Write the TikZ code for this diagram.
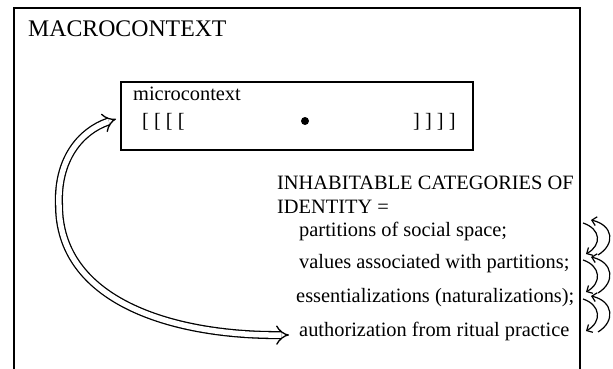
\documentclass[tikz,border=0pt]{standalone}
\usepackage{fontspec}
\setmainfont{Liberation Serif}
\usetikzlibrary{arrows.meta}
\begin{document}
\begin{tikzpicture}[x=1pt,y=-1pt,
  txt/.style={anchor=base west, inner sep=0pt, font=\fontsize{20.4}{24}\selectfont},
  bigtxt/.style={anchor=base west, inner sep=0pt, font=\fontsize{23.8}{28}\selectfont},
  frame/.style={line width=1.7pt},
  dbl/.style={double, double distance=5.5pt, line width=1.3pt, {Implies}-{Implies}},
  recip/.style={line width=1.2pt, -{Straight Barb[length=4.5pt,width=9pt]}}]
\useasboundingbox (0,0) rectangle (613,369);
% outer macro frame (open at bottom)
\coordinate (fBL) at (14,369);
\coordinate (fTL) at (14,8);
\coordinate (fTR) at (580,8);
\coordinate (fBR) at (580,369);
\draw[frame] (fBL) -- (fTL) -- (fTR) -- (fBR);
\node[bigtxt] (macro) at (28,37) {MACROCONTEXT};
% micro box
\node[draw, frame, minimum width=352pt, minimum height=68pt, inner sep=0pt] (micro) at (297,116) {};
\node[txt] (microlbl) at (133,100) {microcontext};
\node[txt] (lbr) at (142,127) {[ [ [ [};
\node[txt] (rbr) at (413,127) {] ] ] ]};
\node[circle, fill, inner sep=0pt, minimum size=8pt] (dot) at (305,121) {};
% identity text
\node[txt] (inh) at (277,189) {INHABITABLE CATEGORIES OF};
\node[txt] (ident) at (277,213) {IDENTITY =};
\node[txt] (part) at (299,236) {partitions of social space;};
\node[txt] (vals) at (299,268) {values associated with partitions;};
\node[txt] (ess) at (296,302) {essentializations (naturalizations);};
\node[txt] (auth) at (299,336) {authorization from ritual practice};
% double arrow
\coordinate (dS) at (116,119);
\coordinate (dL) at (59,205);
\coordinate (dE) at (289,335);
\draw[dbl] (dS) .. controls (80,131) and (57,160) .. (dL)
  .. controls (59,300) and (170,336) .. (dE);
% reciprocal curved arrows
\foreach \i/\ya/\yb in {1/220/254, 2/257/292, 3/296/331}{
  \coordinate (ia\i) at (583,\ya+3);
  \coordinate (ib\i) at (586,\yb);
  \coordinate (oa\i) at (598,\yb+1);
  \coordinate (ob\i) at (591,\ya);
  \draw[recip] (ia\i) .. controls (601,\ya+9) and (602,\yb-9) .. (ib\i);
  \draw[recip] (oa\i) .. controls (616,\yb-10) and (613,\ya+5) .. (ob\i);
}
\end{tikzpicture}
\end{document}
